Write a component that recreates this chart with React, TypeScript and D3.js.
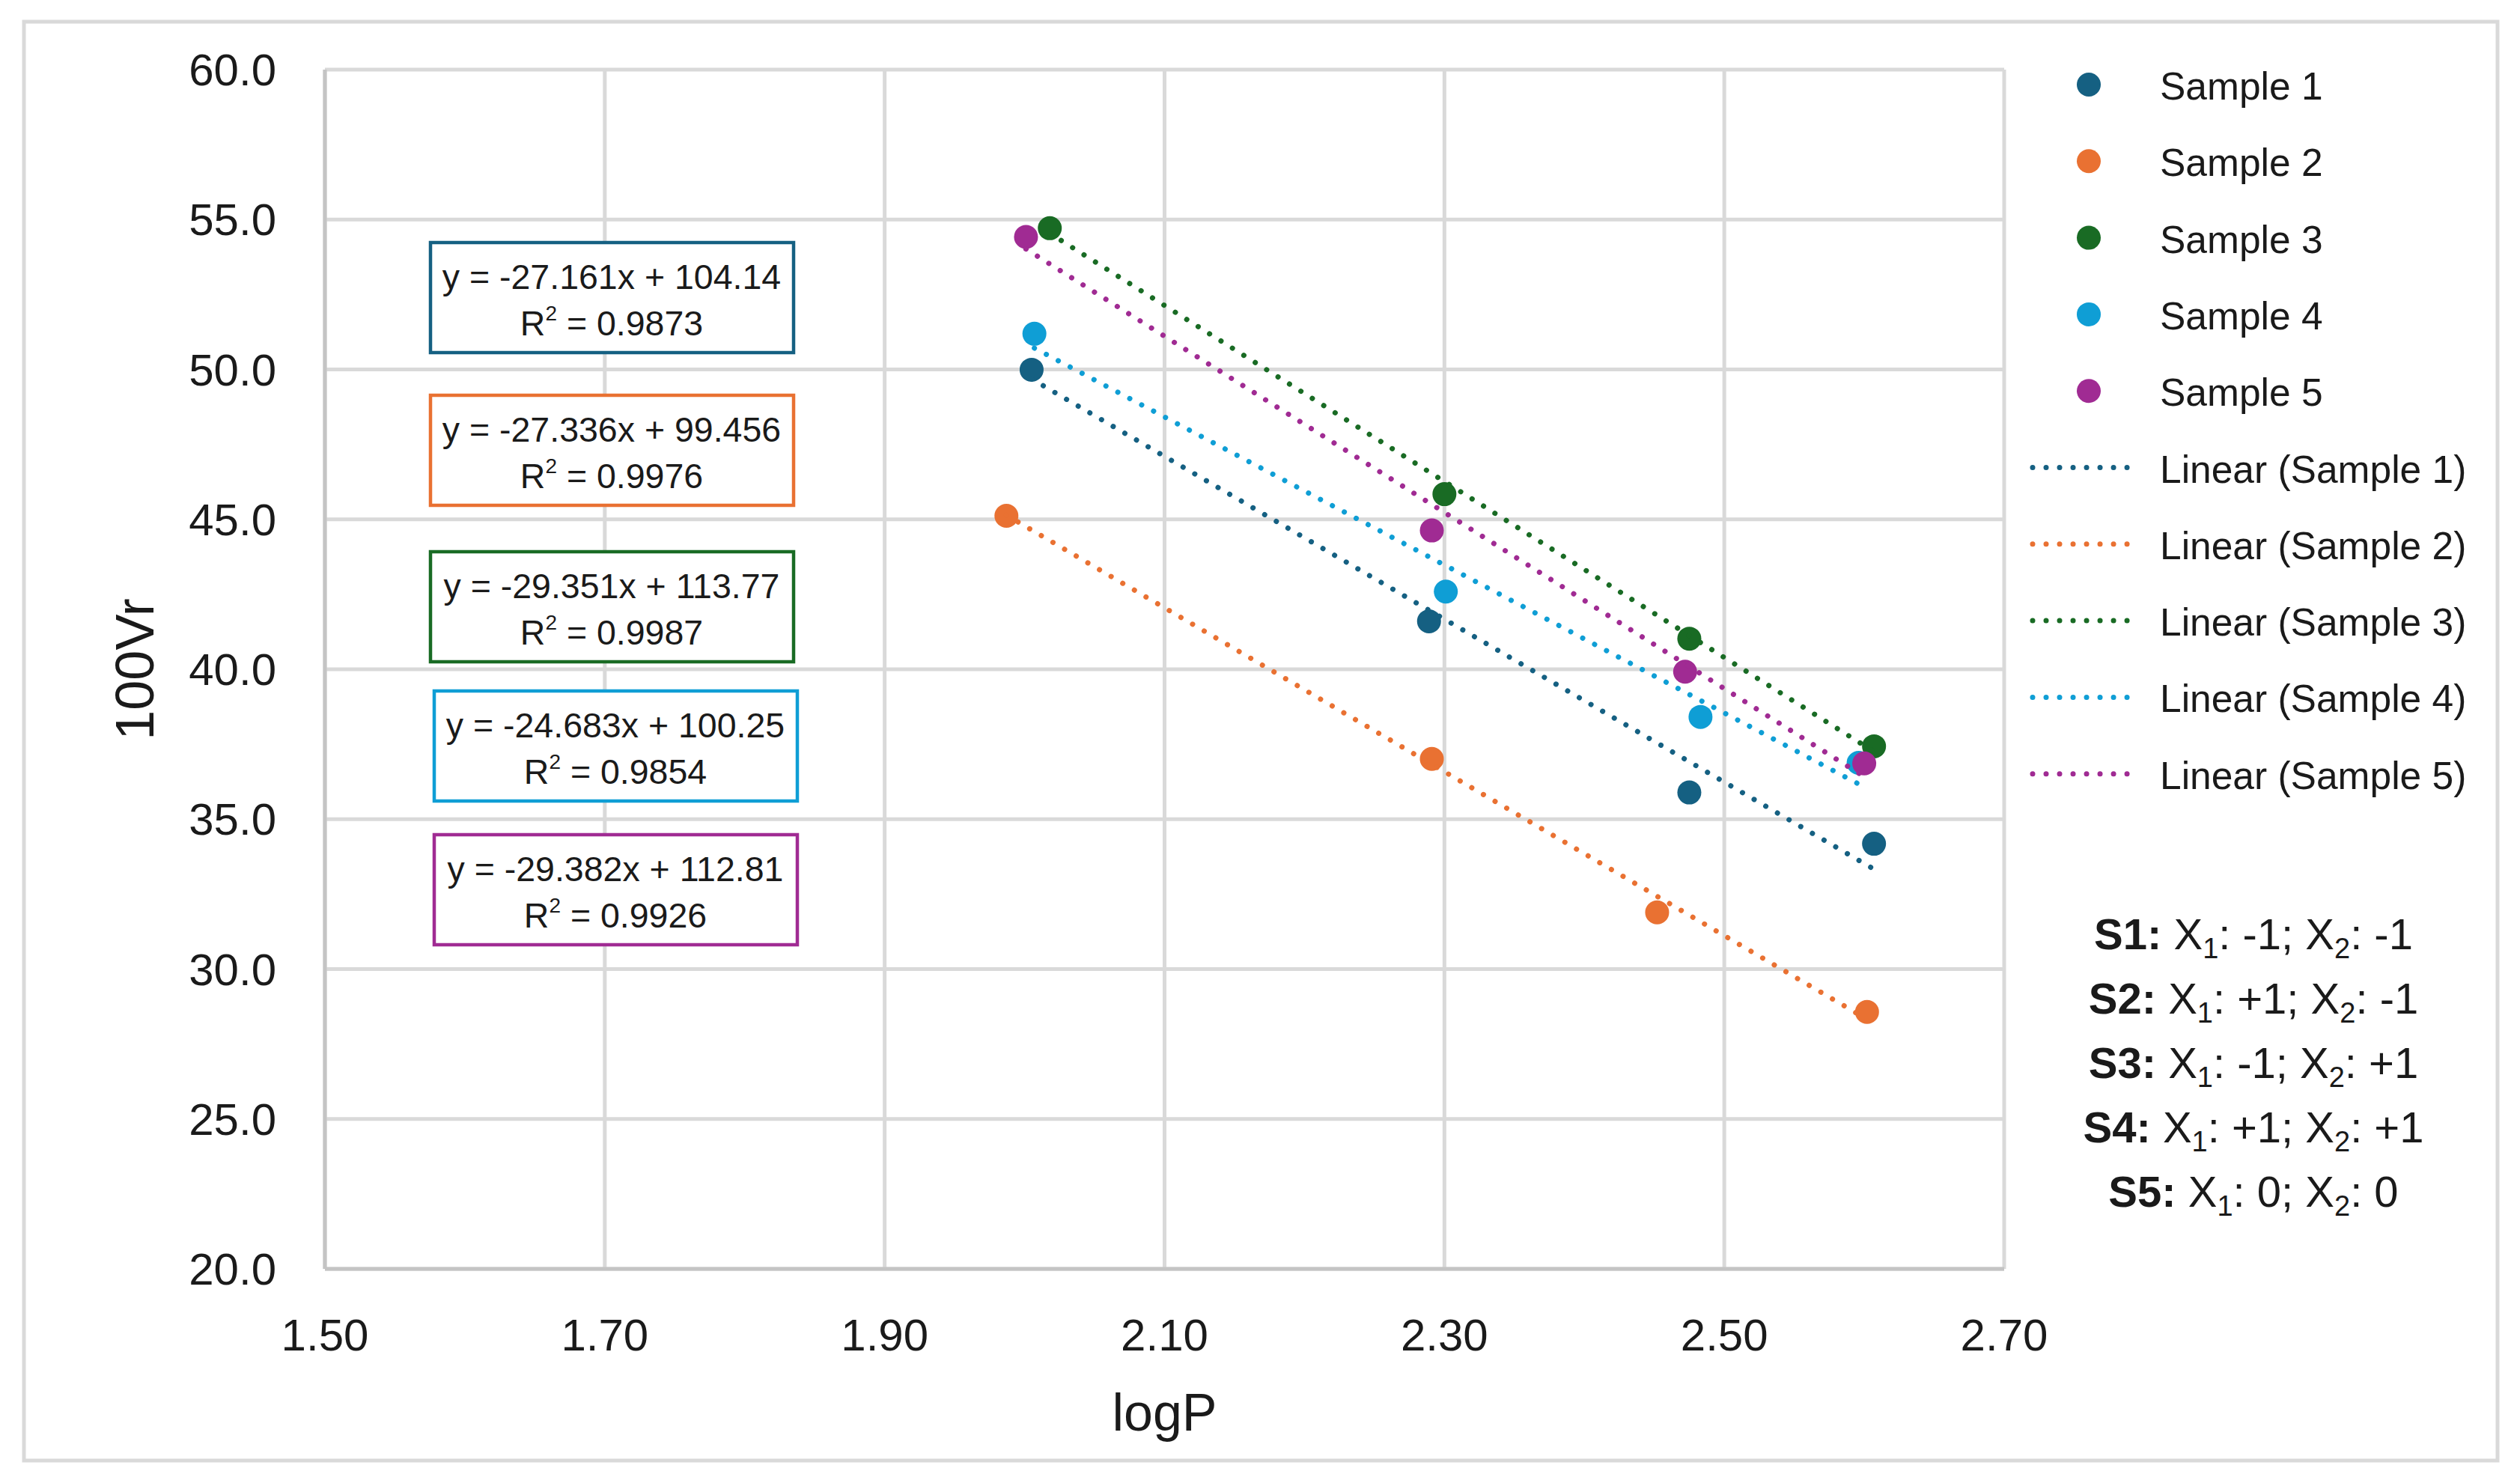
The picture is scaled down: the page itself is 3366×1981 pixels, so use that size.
import React from "react";
import * as d3 from "d3";

// values
const seriesNames = ["Sample 1", "Sample 2", "Sample 3", "Sample 4", "Sample 5"];
const seriesColors = ["#156082", "#E97132", "#196B24", "#0F9ED5", "#A02B93"];

const logP1 = [2.005, 2.289, 2.475, 2.607];
const vr1 = [49.99, 41.6, 35.89, 34.18];
const logP2 = [1.987, 2.291, 2.452, 2.602];
const vr2 = [45.12, 37.01, 31.89, 28.57];
const logP3 = [2.018, 2.3, 2.475, 2.607];
const vr3 = [54.71, 45.84, 41.02, 37.43];
const logP4 = [2.007, 2.301, 2.483, 2.596];
const vr4 = [51.19, 42.59, 38.41, 36.88];
const logP5 = [2.001, 2.291, 2.472, 2.6];
const vr5 = [54.42, 44.63, 39.92, 36.86];

const slopes = [-27.161, -27.336, -29.351, -24.683, -29.382];
const intercepts = [104.14, 99.456, 113.77, 100.25, 112.81];
const r2Values = ["0.9873", "0.9976", "0.9987", "0.9854", "0.9926"];

const designCodes = ["S1", "S2", "S3", "S4", "S5"];
const x1Levels = ["-1", "+1", "-1", "+1", "0"];
const x2Levels = ["-1", "-1", "+1", "+1", "0"];

const xTicks = [1.5, 1.7, 1.9, 2.1, 2.3, 2.5, 2.7];
const yTicks = [20, 25, 30, 35, 40, 45, 50, 55, 60];

const W = 3366;
const H = 1981;
const plot = { left: 434, right: 2677, top: 93, bottom: 1695 };
const font = "'Liberation Sans', Arial, sans-serif";
const ink = "#1a1a1a";

// equation box placement (left, top)
const boxPos = [
  [575, 324],
  [575, 528],
  [575, 737],
  [580, 923],
  [580, 1115],
];

export default function App() {
  const x = d3.scaleLinear().domain([1.5, 2.7]).range([plot.left, plot.right]);
  const y = d3.scaleLinear().domain([20, 60]).range([plot.bottom, plot.top]);
  const fx = d3.format(".2f");
  const fy = d3.format(".1f");

  const xs = [logP1, logP2, logP3, logP4, logP5];
  const ys = [vr1, vr2, vr3, vr4, vr5];
  const series = seriesNames.map((name, i) => ({
    name,
    color: seriesColors[i],
    points: xs[i].map((v, j) => [v, ys[i][j]] as [number, number]),
  }));

  const line = d3
    .line<[number, number]>()
    .x(d => x(d[0]))
    .y(d => y(d[1]));

  // Excel-style linear trendline over the x range of each series
  const trend = (i: number): [number, number][] => {
    const [a, b] = d3.extent(xs[i]) as [number, number];
    return [a, b].map(v => [v, slopes[i] * v + intercepts[i]] as [number, number]);
  };

  const legendX = 2790;
  const legendTop = 113;
  const legendStep = 102.3;
  const dotDash = { strokeWidth: 7, strokeDasharray: "0.01 18", strokeLinecap: "round" as const };

  return (
    <svg
      width={W}
      height={H}
      style={{ position: "absolute", left: 0, top: 0, background: "#fff" }}
      fontFamily={font}
    >
      <rect x={0} y={0} width={W} height={H} fill="#fff" />
      <rect x={32} y={29} width={3304} height={1922} fill="none" stroke="#d9d9d9" strokeWidth={5} />

      {/* grid */}
      {yTicks.map(t => (
        <line key={"gy" + t} x1={plot.left} x2={plot.right} y1={y(t)} y2={y(t)} stroke="#d9d9d9" strokeWidth={5} />
      ))}
      {xTicks.map(t => (
        <line key={"gx" + t} x1={x(t)} x2={x(t)} y1={plot.top} y2={plot.bottom} stroke="#d9d9d9" strokeWidth={5} />
      ))}
      <line x1={plot.left} x2={plot.left} y1={plot.top} y2={plot.bottom} stroke="#c4c4c4" strokeWidth={5} />
      <line x1={plot.left} x2={plot.right} y1={plot.bottom} y2={plot.bottom} stroke="#c4c4c4" strokeWidth={5} />

      {/* tick labels */}
      {yTicks.map(t => (
        <text key={"ty" + t} x={369} y={y(t) + 21} textAnchor="end" fontSize={60} fill={ink}>
          {fy(t)}
        </text>
      ))}
      {xTicks.map(t => (
        <text key={"tx" + t} x={x(t)} y={1804} textAnchor="middle" fontSize={60} fill={ink}>
          {fx(t)}
        </text>
      ))}

      {/* axis titles */}
      <text transform={`translate(205,${(plot.top + plot.bottom) / 2}) rotate(-90)`} textAnchor="middle" fontSize={72} fill={ink}>
        100Vr
      </text>
      <text x={(plot.left + plot.right) / 2} y={1911} textAnchor="middle" fontSize={70} fill={ink}>
        logP
      </text>

      {/* markers */}
      {series.map(s => (
        <g key={"m" + s.name} fill={s.color}>
          {s.points.map((p, j) => (
            <circle key={j} cx={x(p[0])} cy={y(p[1])} r={16} />
          ))}
        </g>
      ))}

      {/* linear trendlines */}
      {series.map((s, i) => (
        <path key={"t" + s.name} d={line(trend(i)) ?? ""} fill="none" stroke={s.color} {...dotDash} />
      ))}

      {/* equation boxes */}
      {series.map((s, i) => {
        const [bx, by] = boxPos[i];
        const cx = bx + 242;
        return (
          <g key={"b" + s.name}>
            <rect x={bx} y={by} width={485} height={147} fill="#fff" stroke={s.color} strokeWidth={4.5} />
            <text x={cx} y={by + 62} textAnchor="middle" fontSize={46.5} fill={ink}>
              {`y = ${slopes[i]}x + ${intercepts[i]}`}
            </text>
            <text x={cx} y={by + 124} textAnchor="middle" fontSize={46.5} fill={ink}>
              <tspan>R</tspan>
              <tspan fontSize={28} dy={-20}>2</tspan>
              <tspan dy={20}>{` = ${r2Values[i]}`}</tspan>
            </text>
          </g>
        );
      })}

      {/* legend */}
      {series.map((s, i) => (
        <g key={"lm" + s.name}>
          <circle cx={legendX} cy={legendTop + i * legendStep} r={16} fill={s.color} />
          <text x={2885} y={legendTop + i * legendStep + 20} fontSize={51.5} fill={ink}>
            {s.name}
          </text>
        </g>
      ))}
      {series.map((s, i) => {
        const ly = legendTop + (i + 5) * legendStep;
        return (
          <g key={"ll" + s.name}>
            <line x1={2715} x2={2858} y1={ly} y2={ly} stroke={s.color} {...dotDash} />
            <text x={2885} y={ly + 20} fontSize={51.5} fill={ink}>
              {`Linear (${s.name})`}
            </text>
          </g>
        );
      })}

      {/* design levels */}
      {designCodes.map((c, i) => (
        <text key={"d" + c} x={3010} y={1268 + i * 86} textAnchor="middle" fontSize={58} fill={ink}>
          <tspan fontWeight="bold">{c}:</tspan>
          <tspan> X</tspan>
          <tspan fontSize={38} dy={12}>1</tspan>
          <tspan dy={-12}>{`: ${x1Levels[i]}; X`}</tspan>
          <tspan fontSize={38} dy={12}>2</tspan>
          <tspan dy={-12}>{`: ${x2Levels[i]}`}</tspan>
        </text>
      ))}
    </svg>
  );
}
